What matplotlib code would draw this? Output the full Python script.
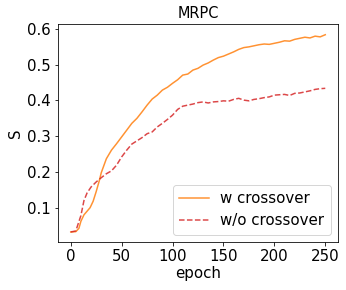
import matplotlib
matplotlib.use("Agg")
import matplotlib.pyplot as plt

# epochs sampled along the curves
epoch_w = [0, 5, 8, 10, 13, 16, 19, 22, 25, 28, 30, 35, 40, 45, 50, 55, 60, 65, 70, 75, 80,
           85, 90, 95, 100, 105, 110, 115, 120, 125, 130, 135, 140, 145, 150, 155, 160,
           165, 170, 175, 180, 185, 190, 195, 200, 205, 210, 215, 220, 225, 230, 235,
           240, 245, 250]
s_w = [0.032, 0.033, 0.042, 0.062, 0.080, 0.090, 0.100, 0.118, 0.145, 0.175, 0.198, 0.237,
       0.261, 0.279, 0.298, 0.317, 0.336, 0.350, 0.368, 0.387, 0.404, 0.415, 0.429,
       0.437, 0.448, 0.458, 0.471, 0.474, 0.485, 0.490, 0.499, 0.505, 0.513, 0.520,
       0.524, 0.530, 0.536, 0.543, 0.548, 0.550, 0.553, 0.556, 0.558, 0.557, 0.560,
       0.563, 0.567, 0.566, 0.571, 0.574, 0.577, 0.575, 0.580, 0.578, 0.584]

epoch_wo = [0, 5, 10, 13, 16, 20, 25, 30, 35, 40, 45, 50, 55, 60, 65, 70, 75, 80, 85,
            90, 95, 100, 105, 110, 115, 120, 125, 130, 135, 140, 145, 150, 155, 160,
            165, 170, 175, 180, 185, 190, 195, 200, 205, 210, 215, 220, 225, 230, 235,
            240, 245, 250]
s_wo = [0.032, 0.035, 0.078, 0.120, 0.141, 0.158, 0.172, 0.184, 0.195, 0.203, 0.219,
        0.242, 0.261, 0.278, 0.287, 0.296, 0.307, 0.312, 0.326, 0.336, 0.347, 0.359,
        0.375, 0.384, 0.387, 0.390, 0.394, 0.396, 0.393, 0.396, 0.397, 0.399, 0.398,
        0.403, 0.406, 0.401, 0.399, 0.403, 0.405, 0.408, 0.410, 0.415, 0.416, 0.417,
        0.414, 0.420, 0.421, 0.424, 0.427, 0.431, 0.433, 0.434]

fig = plt.figure(figsize=(346 / 72, 290 / 72), dpi=72)
ax = fig.add_axes([58 / 346, 1 - 242 / 290, 280 / 346, 218 / 290])

ax.plot(epoch_w, s_w, color="#ff7f0e", lw=1.5, alpha=0.85, label="w crossover")
ax.plot(epoch_wo, s_wo, color="#d62728", lw=1.5, ls="--", alpha=0.85, label="w/o crossover")

ax.set_xlim(-12.5, 262.5)
ax.set_ylim(0.004, 0.614)
ax.set_xticks([0, 50, 100, 150, 200, 250])
ax.set_yticks([0.1, 0.2, 0.3, 0.4, 0.5, 0.6])
ax.tick_params(labelsize=15)
ax.set_xlabel("epoch", fontsize=15, labelpad=2)
ax.set_ylabel("S", fontsize=15)
ax.set_title("MRPC", fontsize=14.5)
ax.legend(loc="lower right", fontsize=15)

fig.savefig("out.png", dpi=72)
